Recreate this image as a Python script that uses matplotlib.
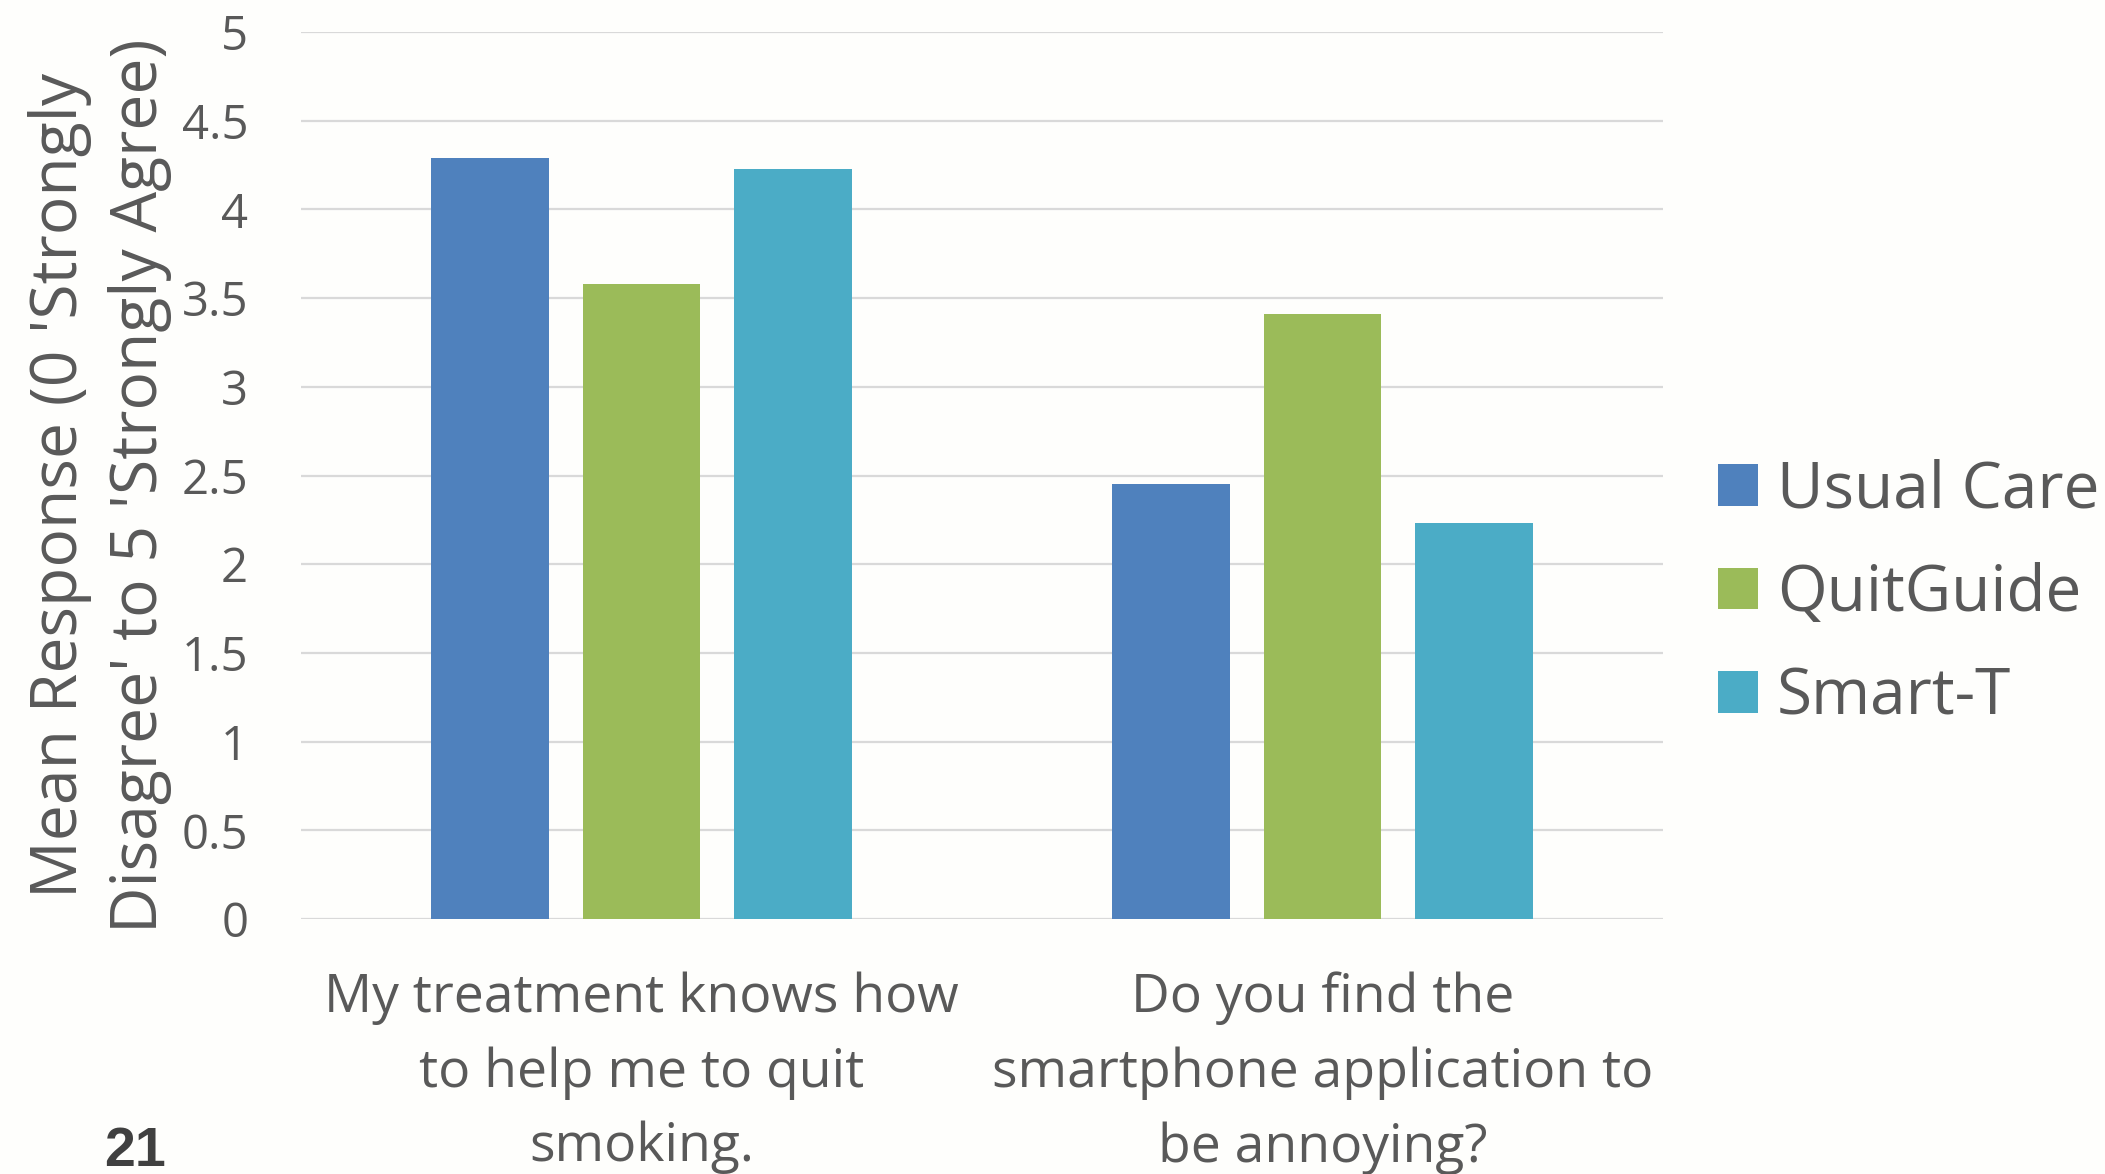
import numpy as np
import matplotlib.pyplot as plt
from matplotlib.ticker import FormatStrFormatter

# survey items and mean responses per arm
questions = [
    "My treatment knows how\nto help me to quit\nsmoking.",
    "Do you find the\nsmartphone application to\nbe annoying?",
]
groups = ["Usual Care", "QuitGuide", "Smart-T"]
usual_care = [4.29, 2.45]
quitguide = [3.58, 3.41]
smart_t = [4.23, 2.23]

colors = ["#4f81bd", "#9bbb59", "#4bacc6"]
text_color = "#595959"
bg = "#fefefc"

plt.rcParams["font.family"] = ["Open Sans", "DejaVu Sans"]

fig = plt.figure(figsize=(21.05, 11.74), dpi=100, facecolor=bg)
ax = fig.add_axes([301 / 2105, 1 - 919 / 1174, 1362 / 2105, 887 / 1174])
ax.set_facecolor(bg)

x = np.arange(len(questions))
width = 0.173
step = 0.222
for i, (name, vals) in enumerate(zip(groups, [usual_care, quitguide, smart_t])):
    ax.bar(x + (i - 1) * step, vals, width, color=colors[i], label=name, zorder=3)

ax.set_xlim(-0.5, 1.5)
ax.set_ylim(0, 5)
ax.set_yticks(np.arange(0, 5.01, 0.5))
ax.yaxis.set_major_formatter(FormatStrFormatter("%g"))
ax.set_xticks(x)
ax.set_xticklabels(questions, linespacing=1.52)

ax.grid(axis="y", color="#d9d9d9", linewidth=1.6, zorder=0)
for s in ax.spines.values():
    s.set_visible(False)
ax.tick_params(axis="y", length=0, pad=38, labelsize=34, labelcolor=text_color)
ax.tick_params(axis="x", length=0, pad=38, labelsize=38.5, labelcolor=text_color)

ax.set_ylabel("Mean Response (0 'Strongly\nDisagree' to 5 'Strongly Agree)",
              fontsize=46.3, color=text_color, linespacing=1.32)
ax.yaxis.set_label_coords(-0.095, 0.489)

fig.legend(loc="center left", bbox_to_anchor=(1718 / 2105, 0.494), frameon=False,
           fontsize=46, labelcolor=text_color, handlelength=0.62, handleheight=0.62,
           handletextpad=0.3, labelspacing=0.62, borderpad=0, borderaxespad=0)

# slide number
fig.text(104 / 2105, 0.007, "21", fontsize=40, fontweight="bold", color="#404040",
         family="Liberation Sans", va="baseline")

fig.savefig("out.png", dpi=100, facecolor=bg)
